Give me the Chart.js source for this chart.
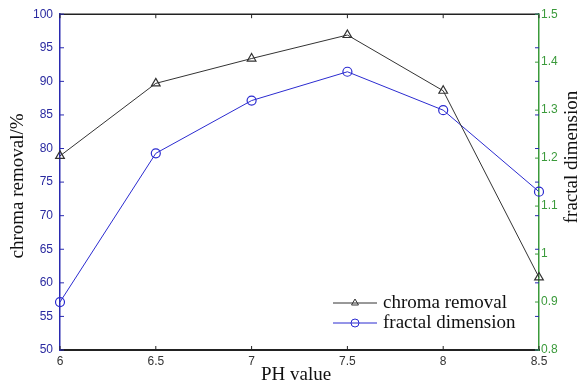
<!DOCTYPE html>
<html><head><meta charset="utf-8">
<script src="https://cdn.jsdelivr.net/npm/chart.js@4/dist/chart.umd.min.js"></script>
<style>html,body{margin:0;padding:0;background:#fff}#wrap{width:585px;height:385px}</style>
</head><body><div id="wrap"><canvas id="c" width="585" height="385"></canvas></div>
<script>
const phValues = ['6', '6.5', '7', '7.5', '8', '8.5'];
const chromaRemoval = [78.9, 89.7, 93.4, 96.9, 88.6, 60.8];
const fractalDimension = [0.90, 1.21, 1.32, 1.38, 1.30, 1.13];
const leftTitle = 'chroma removal/%';
const rightTitle = 'fractal dimension';
const xTitle = 'PH value';
const legendLabels = ['chroma removal', 'fractal dimension'];

const BLUE_TXT = '#2a2aa0';
const GREEN = '#3b9a3b';
const BLUE_LINE = '#2b2bd0';
const BLACK_LINE = '#333333';

const decor = {
  id: 'decor',
  afterDraw(chart) {
    const ctx = chart.ctx, a = chart.chartArea;
    const xs = chart.scales.x, yl = chart.scales.y, yr = chart.scales.y2;
    ctx.save();
    // frame top line
    ctx.strokeStyle = '#222'; ctx.lineWidth = 1.5;
    ctx.beginPath(); ctx.moveTo(a.left, a.top); ctx.lineTo(a.right, a.top); ctx.stroke();
    // x ticks inward (bottom and top)
    ctx.lineWidth = 1;
    phValues.forEach((v, i) => {
      const px = xs.getPixelForValue(i);
      ctx.beginPath(); ctx.moveTo(px, a.bottom); ctx.lineTo(px, a.bottom - 4); ctx.stroke();
      ctx.beginPath(); ctx.moveTo(px, a.top); ctx.lineTo(px, a.top + 4); ctx.stroke();
    });
    // left ticks inward (blue), mirrored on right side
    ctx.strokeStyle = '#2a2ab0';
    yl.ticks.forEach(t => {
      const py = yl.getPixelForValue(t.value);
      ctx.beginPath(); ctx.moveTo(a.left, py); ctx.lineTo(a.left + 4, py); ctx.stroke();
      ctx.beginPath(); ctx.moveTo(a.right, py); ctx.lineTo(a.right - 4, py); ctx.stroke();
    });
    // right ticks inward (green)
    ctx.strokeStyle = GREEN;
    yr.ticks.forEach(t => {
      const py = yr.getPixelForValue(t.value);
      ctx.beginPath(); ctx.moveTo(a.right, py); ctx.lineTo(a.right - 4, py); ctx.stroke();
    });
    // axis titles
    ctx.fillStyle = '#111';
    ctx.font = '19px "Liberation Serif", "Times New Roman", serif';
    ctx.textAlign = 'center'; ctx.textBaseline = 'middle';
    ctx.save(); ctx.translate(18, 186); ctx.rotate(-Math.PI / 2);
    ctx.fillText(leftTitle, 0, 0); ctx.restore();
    ctx.save(); ctx.translate(572, 157); ctx.rotate(-Math.PI / 2);
    ctx.fillText(rightTitle, 0, 0); ctx.restore();
    ctx.fillText(xTitle, 296, 375);
    // legend
    const rows = [
      {label: legendLabels[0], color: BLACK_LINE, style: 'triangle', y: 303},
      {label: legendLabels[1], color: BLUE_LINE, style: 'circle', y: 323}
    ];
    rows.forEach(r => {
      ctx.strokeStyle = r.color; ctx.lineWidth = 1;
      ctx.beginPath(); ctx.moveTo(333, r.y); ctx.lineTo(377, r.y); ctx.stroke();
      ctx.fillStyle = 'rgba(0,0,0,0)';
      Chart.helpers.drawPoint(ctx, {pointStyle: r.style, radius: 4, borderWidth: 1}, 355, r.y);
      ctx.fillStyle = '#111'; ctx.textAlign = 'left';
      ctx.fillText(r.label, 383, r.y);
    });
    ctx.restore();
  }
};

new Chart(document.getElementById('c'), {
  type: 'line',
  data: {
    labels: phValues,
    datasets: [
      {label: legendLabels[0], data: chromaRemoval, yAxisID: 'y', borderColor: BLACK_LINE, borderWidth: 1,
       pointStyle: 'triangle', pointRadius: 5, pointBorderColor: BLACK_LINE, pointBackgroundColor: 'rgba(0,0,0,0)', pointBorderWidth: 1.2, tension: 0},
      {label: legendLabels[1], data: fractalDimension, yAxisID: 'y2', borderColor: BLUE_LINE, borderWidth: 1,
       pointStyle: 'circle', pointRadius: 4.5, pointBorderColor: BLUE_LINE, pointBackgroundColor: 'rgba(0,0,0,0)', pointBorderWidth: 1.2, tension: 0}
    ]
  },
  options: {
    responsive: false, animation: false,
    layout: {padding: {top: 13, left: 0, right: 0, bottom: 0}},
    plugins: {legend: {display: false}, tooltip: {enabled: false}},
    scales: {
      x: {
        offset: false,
        grid: {display: false, drawTicks: false},
        border: {color: '#222', width: 2},
        ticks: {color: '#333', padding: 4, maxRotation: 0, font: {family: '"Liberation Sans", Arial, sans-serif', size: 12}},
        afterFit(s) { s.height = 35; }
      },
      y: {
        position: 'left', min: 50, max: 100,
        grid: {display: false, drawTicks: false},
        border: {color: '#2a2ab0', width: 1.5},
        ticks: {stepSize: 5, color: BLUE_TXT, padding: 7, font: {family: '"Liberation Sans", Arial, sans-serif', size: 12}},
        afterFit(s) { s.width = 60; }
      },
      y2: {
        position: 'right', min: 0.8, max: 1.5,
        grid: {display: false, drawTicks: false},
        border: {color: GREEN, width: 1.5},
        ticks: {stepSize: 0.1, color: GREEN, padding: 2, font: {family: '"Liberation Sans", Arial, sans-serif', size: 12},
          callback: v => String(+(+v).toFixed(1))},
        afterFit(s) { s.width = 46; }
      }
    }
  },
  plugins: [decor]
});
</script></body></html>
